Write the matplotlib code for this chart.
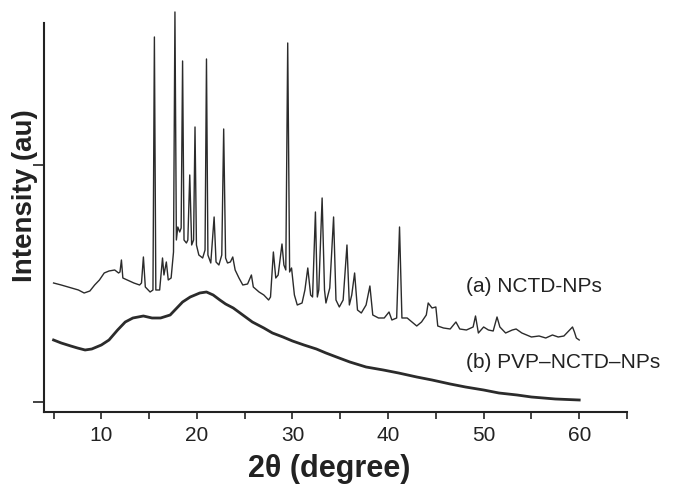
import matplotlib
matplotlib.use("Agg")
import matplotlib.pyplot as plt

# (a) NCTD-NPs, intensity in arbitrary units
two_theta_a = [5.0, 5.8, 6.9, 7.6, 8.2, 8.8, 9.3, 9.8, 10.3, 10.8, 11.4, 11.8, 11.95, 12.1, 12.25,
               12.7, 13.4, 14.0, 14.2, 14.4, 14.6, 15.1, 15.4, 15.55, 15.7, 16.1, 16.4, 16.55, 16.8,
               17.0, 17.3, 17.55, 17.7, 17.85, 18.0, 18.2, 18.35, 18.5, 18.65, 18.9, 19.05, 19.25,
               19.45, 19.65, 19.8, 19.95, 20.2, 20.6, 20.85, 21.0, 21.15, 21.45, 21.8, 22.0, 22.3,
               22.6, 22.8, 23.0, 23.2, 23.5, 23.75, 24.0, 24.4, 24.8, 25.3, 25.7, 25.9, 26.5, 27.0,
               27.5, 27.7, 28.0, 28.25, 28.5, 28.9, 29.1, 29.3, 29.5, 29.7, 29.9, 30.2, 30.5, 31.0,
               31.3, 31.6, 31.9, 32.1, 32.4, 32.6, 32.75, 33.1, 33.35, 33.5, 33.9, 34.3, 34.55, 34.9,
               35.3, 35.7, 35.95, 36.2, 36.5, 36.8, 37.2, 37.7, 38.1, 38.4, 39.0, 39.6, 40.1, 40.4,
               40.9, 41.2, 41.45, 42.0, 42.5, 43.0, 43.5, 44.0, 44.2, 44.6, 45.0, 45.2, 45.8, 46.5,
               47.1, 47.5, 48.2, 48.9, 49.15, 49.45, 50.0, 50.5, 51.0, 51.4, 51.7, 52.3, 53.0, 53.4,
               54.0, 55.0, 55.8, 56.5, 57.2, 57.8, 58.4, 58.8, 59.3, 59.5, 59.7, 60.0]
intensity_a = [119, 117, 114, 112, 109, 111, 117, 122, 129, 131, 132, 129, 130, 142, 124,
               122, 119, 117, 119, 145, 115, 110, 112, 365, 112, 112, 144, 127, 140,
               122, 124, 150, 390, 162, 175, 170, 174, 341, 162, 159, 162, 227,
               157, 162, 275, 157, 147, 144, 152, 343, 147, 139, 185, 140, 137,
               147, 273, 144, 139, 140, 145, 132, 124, 117, 118, 127, 115, 110, 107,
               102, 105, 150, 124, 127, 158, 137, 132, 359, 130, 134, 107, 97, 99,
               112, 134, 107, 105, 190, 105, 112, 204, 112, 99, 114, 185, 102, 95,
               102, 157, 97, 107, 129, 92, 89, 97, 116, 87, 84, 84, 90, 82,
               84, 175, 84, 84, 80, 76, 80, 87, 99, 94, 95, 76, 74, 73,
               80, 73, 72, 75, 86, 69, 75, 72, 71, 85, 75, 69, 72, 73,
               69, 65, 66, 64, 67, 65, 66, 70, 75, 70, 64, 62]

# (b) PVP-NCTD-NPs
two_theta_b = [5.0, 5.8, 6.8, 7.5, 8.3, 9.0, 10.0, 10.8, 11.7, 12.5, 13.3, 14.4, 15.3, 16.2, 17.2,
               17.8, 18.5, 19.3, 20.3, 21.0, 21.7, 22.4, 23.0, 23.8, 24.8, 25.8, 27.0, 27.9, 29.0,
               30.0, 31.2, 32.5, 33.5, 34.6, 36.0, 37.7, 39.5, 41.1, 43.0, 44.6, 46.5, 48.1, 50.0,
               51.6, 53.5, 55.0, 57.5, 60.0]
intensity_b = [62, 59, 56, 54, 52, 53, 57, 62, 72, 80, 84, 86, 84, 84, 87,
               93, 100, 105, 109, 110, 107, 102, 98, 94, 87, 80, 74, 69, 65,
               61, 57, 53, 49, 45, 40, 35, 32, 29, 25, 22, 18, 15, 12,
               9, 7, 5, 3, 2]

labels = ["(a) NCTD-NPs", "(b) PVP\u2013NCTD\u2013NPs"]
x_ticks = [5, 10, 15, 20, 25, 30, 35, 40, 45, 50, 55, 60, 65]
x_tick_labels = ["", "10", "", "20", "", "30", "", "40", "", "50", "", "60", ""]
y_ticks = [0, 237]

plt.rcParams["font.family"] = ["Liberation Sans", "DejaVu Sans"]
line_color = "#2b2b2b"
text_color = "#222222"

fig = plt.figure(figsize=(6.76, 4.91), dpi=100)
ax = fig.add_axes([0.0651, 0.1609, 0.8624, 0.7923])

ax.plot(two_theta_a, intensity_a, color=line_color, lw=1.0, clip_on=False)
ax.plot(two_theta_b, intensity_b, color=line_color, lw=2.0, clip_on=False)

ax.text(48.2, 115, labels[0], fontsize=15, color=text_color, va="center")
ax.text(48.2, 39, labels[1], fontsize=15, color=text_color, va="center")

ax.set_xlim(4, 65)
ax.set_ylim(-10, 379)
ax.set_xticks(x_ticks, x_tick_labels)
ax.set_yticks(y_ticks, ["", ""])
ax.tick_params(axis="x", direction="out", length=5, width=1.2, labelsize=15, pad=5, colors=text_color)
ax.tick_params(axis="y", direction="out", length=8, width=1.2, colors=text_color)

for side in ["top", "right"]:
    ax.spines[side].set_visible(False)
for side in ["left", "bottom"]:
    ax.spines[side].set_linewidth(1.5)
    ax.spines[side].set_color(text_color)

ax.set_xlabel("2\u03b8 (degree)", fontsize=22, fontweight="bold", color=text_color)
ax.set_ylabel("Intensity (au)", fontsize=20, fontweight="bold", color=text_color)
ax.xaxis.set_label_coords(0.49, -0.108)
ax.yaxis.set_label_coords(-0.011, 0.555)

fig.savefig("out.png", dpi=100)
